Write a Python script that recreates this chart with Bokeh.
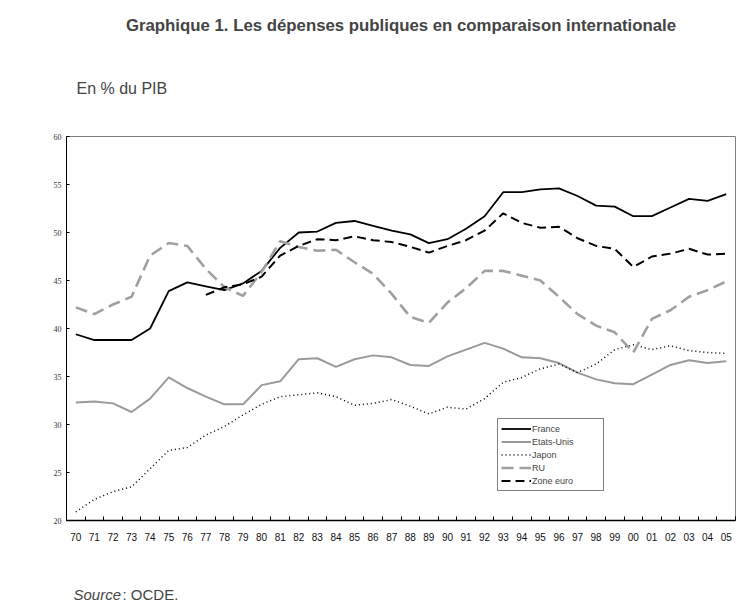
import numpy as np
from bokeh.plotting import figure
from bokeh.models import FixedTicker, Legend, LegendItem, Range1d, Title, LinearAxis
from bokeh.embed import file_html
from bokeh.resources import INLINE

nan = float("nan")
years = ["70", "71", "72", "73", "74", "75", "76", "77", "78", "79",
         "80", "81", "82", "83", "84", "85", "86", "87", "88", "89",
         "90", "91", "92", "93", "94", "95", "96", "97", "98", "99",
         "00", "01", "02", "03", "04", "05"]

france = [39.4, 38.8, 38.8, 38.8, 40.0, 43.9, 44.8, 44.4, 44.0, 44.7,
          46.0, 48.4, 50.0, 50.1, 51.0, 51.2, 50.7, 50.2, 49.8, 48.9,
          49.3, 50.4, 51.7, 54.2, 54.2, 54.5, 54.6, 53.8, 52.8, 52.7,
          51.7, 51.7, 52.6, 53.5, 53.3, 54.0]
etats_unis = [32.3, 32.4, 32.2, 31.3, 32.7, 34.9, 33.8, 32.9, 32.1, 32.1,
              34.1, 34.5, 36.8, 36.9, 36.0, 36.8, 37.2, 37.0, 36.2, 36.1,
              37.1, 37.8, 38.5, 37.9, 37.0, 36.9, 36.4, 35.4, 34.7, 34.3,
              34.2, 35.2, 36.2, 36.7, 36.4, 36.6]
japon = [20.9, 22.2, 23.0, 23.5, 25.4, 27.3, 27.6, 28.9, 29.8, 31.0,
         32.1, 32.9, 33.1, 33.3, 32.9, 32.0, 32.2, 32.6, 31.9, 31.1,
         31.8, 31.6, 32.7, 34.4, 34.9, 35.8, 36.3, 35.4, 36.3, 37.8,
         38.3, 37.8, 38.2, 37.7, 37.5, 37.4]
ru = [42.2, 41.5, 42.5, 43.3, 47.6, 48.9, 48.6, 46.2, 44.3, 43.4,
      45.9, 49.1, 48.5, 48.1, 48.2, 46.9, 45.7, 43.6, 41.2, 40.6,
      42.7, 44.2, 46.0, 46.0, 45.5, 45.0, 43.3, 41.5, 40.3, 39.6,
      37.5, 41.0, 41.9, 43.3, 44.0, 44.9]
zone_euro = [nan, nan, nan, nan, nan, nan, nan, 43.5, 44.3, 44.6,
             45.4, 47.6, 48.6, 49.3, 49.2, 49.6, 49.2, 49.0, 48.5, 47.9,
             48.6, 49.2, 50.2, 52.0, 51.0, 50.5, 50.6, 49.4, 48.6, 48.3,
             46.4, 47.5, 47.8, 48.3, 47.7, 47.8]
y_ticks = [20, 25, 30, 35, 40, 45, 50, 55, 60]

title_text = "Graphique 1. Les dépenses publiques en comparaison internationale"
unit_text = "En % du PIB"
source_label = "Source"
source_text = ": OCDE."

x = np.arange(len(years))

p = figure(width=754, height=616, output_backend="svg", toolbar_location=None,
           x_range=Range1d(-0.5, len(years) - 0.5), y_range=Range1d(20, 60),
           min_border_left=66, min_border_right=19, min_border_top=136,
           min_border_bottom=96)
p.background_fill_color = "white"
p.border_fill_color = "white"
p.outline_line_color = "#808080"
p.outline_line_width = 1
p.xgrid.visible = False
p.ygrid.visible = False

fr = p.line(x, france, line_color="black", line_width=1.8)
us = p.line(x, etats_unis, line_color="#9a9a9a", line_width=2)
jp = p.line(x, japon, line_color="black", line_width=1.5, line_dash="1 3")
uk = p.line(x, np.array(ru), line_color="#a0a0a0", line_width=2.6, line_dash="12 6")
ze = p.line(x, np.array(zone_euro), line_color="black", line_width=2, line_dash="9 5")

# x axis
xa = p.xaxis[0]
xa.ticker = FixedTicker(ticks=list(x), minor_ticks=[i - 0.5 for i in range(len(years) + 1)])
xa.major_label_overrides = {int(i): years[i] for i in x}
xa.major_tick_line_color = None
xa.minor_tick_in = 4
xa.minor_tick_out = 0
xa.minor_tick_line_color = "black"
xa.axis_line_color = "black"
xa.axis_line_width = 1.5
xa.major_label_text_font = "Liberation Sans"
xa.major_label_text_font_size = "10px"
xa.major_label_text_color = "#111111"
xa.major_label_standoff = 6

# blank spacer axis below (one white tick, empty label) to push the source line down
spacer = LinearAxis(ticker=FixedTicker(ticks=[0]), axis_line_color=None,
                    major_tick_line_color="white", minor_tick_line_color=None,
                    major_tick_in=0, major_tick_out=42, minor_tick_in=0, minor_tick_out=0,
                    major_label_standoff=0, major_label_overrides={0: ""},
                    major_label_text_font_size="1px", major_label_text_color="white")
p.add_layout(spacer, "below")

# y axis
ya = p.yaxis[0]
ya.ticker = FixedTicker(ticks=y_ticks)
ya.major_tick_in = 3
ya.major_tick_out = 0
ya.minor_tick_line_color = None
ya.axis_line_color = "black"
ya.axis_line_width = 1
ya.major_label_text_font = "Liberation Serif"
ya.major_label_text_font_size = "8px"
ya.major_label_text_color = "#333333"
ya.major_label_standoff = 5

legend = Legend(items=[
    LegendItem(label="France", renderers=[fr]),
    LegendItem(label="Etats-Unis", renderers=[us]),
    LegendItem(label="Japon", renderers=[jp]),
    LegendItem(label="RU", renderers=[uk]),
    LegendItem(label="Zone euro", renderers=[ze]),
], location=(431, 29))
legend.label_text_font = "Liberation Sans"
legend.label_text_font_size = "9px"
legend.glyph_width = 30
legend.glyph_height = 13
legend.label_height = 13
legend.label_width = 68
legend.label_standoff = 1
legend.spacing = 0
legend.padding = 3
legend.margin = 0
legend.border_line_color = "black"
legend.border_line_width = 1
legend.background_fill_alpha = 1
p.add_layout(legend, "center")

p.title.text = title_text
p.title.text_font = "Liberation Sans"
p.title.text_font_style = "bold"
p.title.text_font_size = "16.8px"
p.title.align = "center"
p.title.offset = 2
p.title.standoff = 6

p.add_layout(Title(text=unit_text, text_font="Liberation Sans", text_font_style="normal",
                   text_font_size="16px", align="left", offset=10, standoff=80), "above")

p.add_layout(Title(text=source_label, text_font="Liberation Sans", text_font_style="italic",
                   text_font_size="15px", align="left", offset=7, standoff=0,
                   vertical_align="top"), "below")
p.add_layout(Title(text=source_text, text_font="Liberation Sans", text_font_style="normal",
                   text_font_size="15px", align="left", offset=56, standoff=-38,
                   vertical_align="top"), "below")

open("out.html", "w").write(file_html(p, INLINE))
